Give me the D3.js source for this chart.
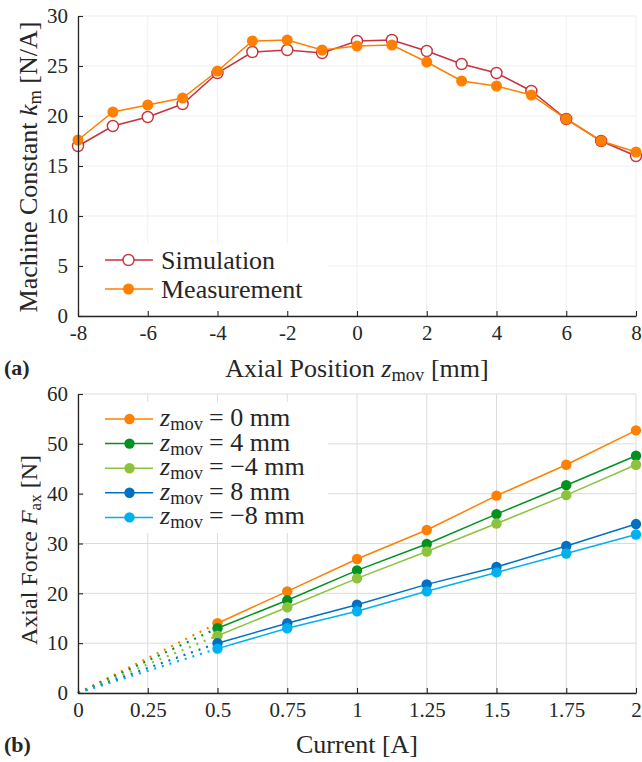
<!DOCTYPE html>
<html>
<head>
<meta charset="utf-8">
<script src="https://cdn.jsdelivr.net/npm/d3@7"></script>
</head>
<body style="margin:0">
<svg id="fig" width="642" height="762"></svg>
<script>
// ---- (a) machine constant vs axial position ----
const positions   = [-8, -7, -6, -5, -4, -3, -2, -1, 0, 1, 2, 3, 4, 5, 6, 7, 8];
const simulation  = [17.0, 19.0, 19.9, 21.2, 24.3, 26.4, 26.6, 26.3, 27.5, 27.6, 26.5, 25.2, 24.3, 22.5, 19.7, 17.5, 16.0];
const measurement = [17.6, 20.4, 21.1, 21.8, 24.5, 27.5, 27.6, 26.6, 27.0, 27.1, 25.4, 23.5, 23.0, 22.1, 19.7, 17.5, 16.4];
const posTicks    = [-8, -6, -4, -2, 0, 2, 4, 6, 8];
const kmTicks     = [0, 5, 10, 15, 20, 25, 30];

// ---- (b) axial force vs current ----
const currents  = [0.5, 0.75, 1, 1.25, 1.5, 1.75, 2];
const force0mm  = [14.0, 20.4, 26.9, 32.7, 39.6, 45.8, 52.7];
const force4mm  = [13.0, 18.6, 24.6, 29.9, 35.9, 41.7, 47.6];
const forceM4mm = [11.5, 17.2, 23.0, 28.4, 34.0, 39.7, 45.8];
const force8mm  = [10.0, 14.0, 17.7, 21.8, 25.3, 29.5, 33.9];
const forceM8mm = [8.9, 13.0, 16.4, 20.4, 24.2, 28.0, 31.8];
const forceLabels = ["= 0 mm", "= 4 mm", "= \u22124 mm", "= 8 mm", "= \u22128 mm"];
const currentTicks = [0, 0.25, 0.5, 0.75, 1, 1.25, 1.5, 1.75, 2];
const currentTickLabels = ["0", "0.25", "0.5", "0.75", "1", "1.25", "1.5", "1.75", "2"];
const forceTicks = [0, 10, 20, 30, 40, 50, 60];

const forceSeries = [
  { values: force0mm,  color: "#ff7f00", label: forceLabels[0] },
  { values: force4mm,  color: "#00921e", label: forceLabels[1] },
  { values: forceM4mm, color: "#8cc23c", label: forceLabels[2] },
  { values: force8mm,  color: "#0070c0", label: forceLabels[3] },
  { values: forceM8mm, color: "#00b0f0", label: forceLabels[4] }
];

const svg = d3.select("#fig");
const FONT = "Liberation Serif";
const axisColor = "#262626";
const tickFont = 21, labelFont = 26, subFont = 18.5;

function drawGrid(g, x, y, xTicks, yTicks, gridColor) {
  g.append("g").selectAll("line").data(xTicks).join("line")
    .attr("x1", d => x(d)).attr("x2", d => x(d))
    .attr("y1", y.range()[0]).attr("y2", y.range()[1])
    .attr("stroke", gridColor).attr("stroke-width", 1);
  g.append("g").selectAll("line").data(yTicks).join("line")
    .attr("y1", d => y(d)).attr("y2", d => y(d))
    .attr("x1", x.range()[0]).attr("x2", x.range()[1])
    .attr("stroke", gridColor).attr("stroke-width", 1);
}

// axis lines with inward ticks
function drawAxis(g, axis, transform) {
  const a = g.append("g").attr("transform", transform).call(axis);
  a.attr("font-family", null).attr("font-size", null);
  a.select(".domain").attr("stroke", axisColor).attr("stroke-width", 1.3);
  a.selectAll(".tick line").attr("stroke", axisColor).attr("stroke-width", 1.1);
  a.selectAll(".tick text")
    .attr("font-family", FONT).attr("font-size", tickFont).attr("fill", axisColor);
  return a;
}

function label(g, x, y, size) {
  return g.append("text").attr("x", x).attr("y", y)
    .attr("font-family", FONT).attr("font-size", size).attr("fill", axisColor);
}

// ================= panel (a) =================
const xa = d3.scaleLinear().domain([-8, 8]).range([78, 636]);
const ya = d3.scaleLinear().domain([0, 30]).range([316, 16]);
const ga = svg.append("g");
drawGrid(ga, xa, ya, posTicks, kmTicks, "#efefef");

// legend background hides the grid behind it
ga.append("rect").attr("x", 84).attr("y", 243).attr("width", 244).attr("height", 72).attr("fill", "#fff");

const lineA = d3.line().x((d, i) => xa(positions[i])).y(d => ya(d));
ga.append("path").datum(simulation).attr("d", lineA)
  .attr("fill", "none").attr("stroke", "#c8323c").attr("stroke-width", 1.5);
ga.append("path").datum(measurement).attr("d", lineA)
  .attr("fill", "none").attr("stroke", "#ff7f00").attr("stroke-width", 1.5);
ga.append("g").selectAll("circle").data(simulation).join("circle")
  .attr("cx", (d, i) => xa(positions[i])).attr("cy", d => ya(d)).attr("r", 5.5)
  .attr("fill", "#fff").attr("stroke", "#c8323c").attr("stroke-width", 1.4);
ga.append("g").selectAll("circle").data(measurement).join("circle")
  .attr("cx", (d, i) => xa(positions[i])).attr("cy", d => ya(d)).attr("r", 5.5)
  .attr("fill", "#ff7f00");

drawAxis(ga, d3.axisBottom(xa).tickValues(posTicks).tickFormat(d => String(d)).tickSize(-5).tickSizeOuter(0).tickPadding(9), "translate(0,316)");
drawAxis(ga, d3.axisLeft(ya).tickValues(kmTicks).tickSize(-5).tickSizeOuter(0).tickPadding(10), "translate(78,0)");

// legend (a)
const legA = [
  { label: "Simulation", stroke: "#c8323c", fill: "#fff", y: 260 },
  { label: "Measurement", stroke: "#ff7f00", fill: "#ff7f00", y: 289 }
];
legA.forEach(l => {
  ga.append("line").attr("x1", 105).attr("x2", 153).attr("y1", l.y).attr("y2", l.y)
    .attr("stroke", l.stroke).attr("stroke-width", 1.5);
  ga.append("circle").attr("cx", 128.5).attr("cy", l.y).attr("r", 5.5)
    .attr("fill", l.fill).attr("stroke", l.stroke).attr("stroke-width", l.fill === "#fff" ? 1.4 : 0);
  label(ga, 161, l.y + 8.5, labelFont).text(l.label);
});

// axis titles (a)
const txa = label(ga, 357, 377, labelFont).attr("text-anchor", "middle");
txa.append("tspan").text("Axial Position ");
txa.append("tspan").attr("font-style", "italic").text("z");
txa.append("tspan").attr("font-size", subFont).attr("dy", 4).text("mov");
txa.append("tspan").attr("dy", -4).text(" [mm]");

const tya = label(ga, 0, 0, labelFont).attr("transform", "translate(37,167) rotate(-90)").attr("text-anchor", "middle");
tya.append("tspan").text("Machine Constant ");
tya.append("tspan").attr("font-style", "italic").text("k");
tya.append("tspan").attr("font-size", subFont).attr("dy", 4).text("m");
tya.append("tspan").attr("dy", -4).text(" [N/A]");

label(svg, 4, 375, 22).attr("font-weight", "bold").text("(a)");

// ================= panel (b) =================
const xb = d3.scaleLinear().domain([0, 2]).range([78, 636]);
const yb = d3.scaleLinear().domain([0, 60]).range([693, 394]);
const gb = svg.append("g");
drawGrid(gb, xb, yb, currentTicks, forceTicks, "#dcdcdc");

gb.append("rect").attr("x", 84).attr("y", 402).attr("width", 244).attr("height", 131).attr("fill", "#fff");

const lineB = d3.line().x((d, i) => xb(currents[i])).y(d => yb(d));
forceSeries.forEach(s => {
  // extrapolation towards the origin
  gb.append("line")
    .attr("x1", xb(0)).attr("y1", yb(0))
    .attr("x2", xb(currents[0])).attr("y2", yb(s.values[0]))
    .attr("stroke", s.color).attr("stroke-width", 2.2).attr("stroke-dasharray", "2,6");
  gb.append("path").datum(s.values).attr("d", lineB)
    .attr("fill", "none").attr("stroke", s.color).attr("stroke-width", 1.5);
  gb.append("g").selectAll("circle").data(s.values).join("circle")
    .attr("cx", (d, i) => xb(currents[i])).attr("cy", d => yb(d)).attr("r", 5.2)
    .attr("fill", s.color);
});

drawAxis(gb, d3.axisBottom(xb).tickValues(currentTicks).tickFormat((d, i) => currentTickLabels[i]).tickSize(-5).tickSizeOuter(0).tickPadding(9), "translate(0,693)");
drawAxis(gb, d3.axisLeft(yb).tickValues(forceTicks).tickSize(-5).tickSizeOuter(0).tickPadding(10), "translate(78,0)");

// legend (b)
forceSeries.forEach((s, i) => {
  const y = 419 + i * 24.6;
  gb.append("line").attr("x1", 105).attr("x2", 153).attr("y1", y).attr("y2", y)
    .attr("stroke", s.color).attr("stroke-width", 1.5);
  gb.append("circle").attr("cx", 129.5).attr("cy", y).attr("r", 5.2).attr("fill", s.color);
  const t = label(gb, 160, y + 7, labelFont);
  t.append("tspan").attr("font-style", "italic").text("z");
  t.append("tspan").attr("font-size", subFont).attr("dy", 4).text("mov");
  t.append("tspan").attr("dy", -4).attr("dx", 6).text(s.label);
});

// axis titles (b)
label(gb, 357, 753, labelFont).attr("text-anchor", "middle").text("Current [A]");
const tyb = label(gb, 0, 0, 24).attr("transform", "translate(37,550) rotate(-90)").attr("text-anchor", "middle");
tyb.append("tspan").text("Axial Force ");
tyb.append("tspan").attr("font-style", "italic").text("F");
tyb.append("tspan").attr("font-size", 17).attr("dy", 4).text("ax");
tyb.append("tspan").attr("dy", -4).text(" [N]");

label(svg, 4, 752, 22).attr("font-weight", "bold").text("(b)");
</script>
</body>
</html>
